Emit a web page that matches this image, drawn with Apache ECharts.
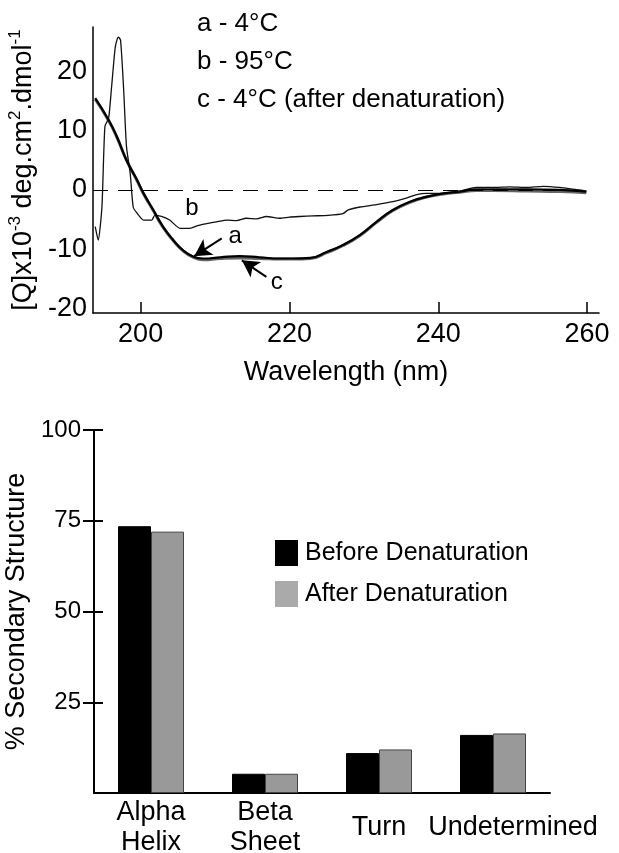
<!DOCTYPE html>
<html>
<head>
<meta charset="utf-8">
<script src="https://cdn.jsdelivr.net/npm/echarts@6/dist/echarts.min.js"></script>
<style>
  html, body { margin: 0; padding: 0; background: #fff; }
  #main { width: 619px; height: 853px; }
</style>
</head>
<body>
<div id="main"></div>
<script>
// CD spectra (wavelength nm, [Q] x10^-3)
var wlA = [193.9, 195.7, 196.8, 198.1, 199.5, 200.4, 201.7, 203.0, 204.4, 205.7, 207.1, 208.4, 210.7, 213.3, 216.0, 218.7, 220.5, 222.8, 225.0, 227.2, 229.5, 231.7, 233.9, 236.2, 238.4, 240.7, 242.9, 245.1, 247.4, 251.9, 256.4, 259.9];
var valA = [15.5, 11.8, 9.0, 5.0, 1.7, -0.6, -3.4, -6.2, -8.5, -10.2, -11.3, -11.6, -11.4, -11.2, -11.4, -11.6, -11.6, -11.5, -10.5, -9.3, -7.6, -5.4, -3.4, -2.0, -1.2, -0.6, -0.3, 0.1, 0.1, 0.1, 0.0, -0.3];

var wlC = [193.9, 195.7, 196.8, 198.1, 199.5, 200.4, 201.7, 203.0, 204.4, 205.7, 207.1, 208.4, 210.7, 213.3, 216.0, 218.7, 220.5, 222.8, 225.0, 227.2, 229.5, 231.7, 233.9, 236.2, 238.4, 240.7, 242.9, 245.1, 247.4, 251.9, 256.4, 259.9];
var valC = [15.3, 11.7, 8.9, 5.0, 1.6, -0.7, -3.5, -6.3, -8.6, -10.3, -11.4, -11.8, -11.6, -11.5, -11.6, -11.7, -11.7, -11.6, -10.6, -9.4, -7.7, -5.5, -3.5, -2.1, -1.2, -0.7, -0.4, -0.1, -0.1, -0.2, -0.3, -0.5];

var wlB = [193.9, 194.3, 194.8, 195.2, 195.7, 196.1, 196.6, 197.0, 197.3, 197.7, 198.1, 198.6, 199.0, 199.5, 200.4, 201.5, 201.9, 202.8, 203.9, 205.3, 206.6, 207.8, 208.9, 210.2, 211.6, 212.9, 214.2, 215.6, 216.9, 218.7, 220.0, 221.4, 223.2, 225.2, 227.2, 227.9, 229.5, 231.7, 233.9, 235.7, 237.1, 238.4, 240.2, 242.9, 245.1, 247.4, 249.6, 251.9, 254.1, 256.3, 259.9];
var valB = [-6.2, -8.5, -2.9, 10.7, 12.1, 17.4, 24.2, 25.8, 25.3, 17.4, 7.3, 2.8, -2.9, -3.9, -5.1, -5.1, -4.3, -4.5, -5.1, -6.5, -6.5, -6.0, -5.7, -5.4, -5.1, -5.2, -4.8, -4.9, -4.5, -4.8, -4.6, -4.5, -4.4, -4.3, -4.0, -3.4, -2.9, -2.5, -2.0, -1.4, -0.8, -0.6, -0.6, -0.2, 0.4, 0.4, 0.5, 0.4, 0.6, 0.4, -0.2];

// secondary structure (%)
var categories = ['Alpha\nHelix', 'Beta\nSheet', 'Turn', 'Undetermined'];
var before = [73.5, 5.3, 11, 16];
var after = [72, 5.3, 12, 16.4];

var xTicks = [200, 220, 240, 260];
var yTicks = [-20, -10, 0, 10, 20];
var pctTicks = [25, 50, 75, 100];

function pairs(xs, ys) {
    return xs.map(function (x, i) { return [x, ys[i]]; });
}

var font = 'Liberation Sans, Arial, sans-serif';
var chart = echarts.init(document.getElementById('main'));

var option = {
    animation: false,
    backgroundColor: '#fff',
    textStyle: { fontFamily: font, color: '#000' },
    title: {
        text: 'a - 4°C\nb - 95°C\nc - 4°C (after denaturation)',
        left: 192,
        top: 0,
        textStyle: { fontFamily: font, fontSize: 26, fontWeight: 'normal', color: '#000', lineHeight: 38 }
    },
    legend: {
        orient: 'vertical',
        left: 270,
        top: 535,
        itemWidth: 23,
        itemHeight: 26,
        itemGap: 15,
        icon: 'rect',
        itemStyle: { borderWidth: 0 },
        textStyle: { fontFamily: font, fontSize: 25, color: '#000', padding: [0, 0, 0, 2] },
        data: [
            { name: 'Before Denaturation', itemStyle: { color: '#000' } },
            { name: 'After Denaturation', itemStyle: { color: '#aaa' } }
        ]
    },
    grid: [
        { left: 93, right: 20, top: 27, height: 286, outerBoundsMode: 'none' },
        { left: 94, right: 69, top: 430, height: 363, outerBoundsMode: 'none' }
    ],
    xAxis: [{
        gridIndex: 0,
        type: 'value',
        min: 193.6,
        max: 261.6,
        splitLine: { show: false },
        axisLine: { show: true, onZero: false, lineStyle: { color: '#000', width: 1.5 } },
        axisTick: { show: true, inside: true, length: 11, customValues: xTicks, lineStyle: { color: '#000', width: 1.5 } },
        axisLabel: { customValues: xTicks, fontSize: 27, color: '#000', margin: 8 },
        name: 'Wavelength (nm)',
        nameLocation: 'middle',
        nameGap: 46,
        nameTextStyle: { fontSize: 27, color: '#000' }
    }, {
        gridIndex: 1,
        type: 'category',
        data: categories,
        axisLine: { show: true, lineStyle: { color: '#000', width: 2 } },
        axisTick: { show: false },
        axisLabel: {
            fontSize: 27,
            color: '#000',
            lineHeight: 30,
            verticalAlign: 'middle',
            margin: 35,
            interval: 0,
            formatter: function (v) {
                return v === 'Undetermined' ? '{u|' + v + '}' : v;
            },
            rich: { u: { fontSize: 27, color: '#000', padding: [0, 0, 0, 40] } }
        }
    }],
    yAxis: [{
        gridIndex: 0,
        type: 'value',
        min: -20.8,
        max: 27.5,
        splitLine: { show: false },
        axisLine: { show: true, onZero: false, lineStyle: { color: '#000', width: 1.5 } },
        axisTick: { show: false },
        axisLabel: { customValues: yTicks, fontSize: 27, color: '#000', margin: 6 },
        name: '{n|[Q]x10}{s|-3}{n| deg.cm}{s|2}{n|.dmol}{s|-1}',
        nameLocation: 'middle',
        nameGap: 39,
        nameTextStyle: {
            rich: {
                n: { fontSize: 27, color: '#000', lineHeight: 34, fontFamily: font },
                s: { fontSize: 17, color: '#000', lineHeight: 17, verticalAlign: 'top', fontFamily: font }
            }
        }
    }, {
        gridIndex: 1,
        type: 'value',
        min: 0,
        max: 100,
        interval: 25,
        splitLine: { show: false },
        axisLine: { show: true, lineStyle: { color: '#000', width: 2 } },
        axisTick: { show: true, length: 11, customValues: pctTicks, lineStyle: { color: '#000', width: 2 } },
        axisLabel: { customValues: pctTicks, fontSize: 24, color: '#000', margin: 13 },
        name: '% Secondary Structure',
        nameLocation: 'middle',
        nameGap: 53,
        nameTextStyle: { fontSize: 27, color: '#000' }
    }, {
        // inner half of the crossing ticks
        gridIndex: 1,
        type: 'value',
        position: 'left',
        min: 0,
        max: 100,
        interval: 25,
        splitLine: { show: false },
        axisLine: { show: false },
        axisTick: { show: true, inside: true, length: 9, customValues: pctTicks, lineStyle: { color: '#000', width: 2 } },
        axisLabel: { show: false }
    }],
    series: [{
        name: 'c',
        type: 'line',
        xAxisIndex: 0,
        yAxisIndex: 0,
        data: pairs(wlC, valC),
        smooth: true,
        showSymbol: false,
        lineStyle: { color: '#666', width: 3 },
        z: 2
    }, {
        name: 'b',
        type: 'line',
        xAxisIndex: 0,
        yAxisIndex: 0,
        data: pairs(wlB, valB),
        smooth: 0.2,
        showSymbol: false,
        lineStyle: { color: '#111', width: 1.3 },
        z: 3,
        markLine: {
            silent: true,
            symbol: ['none', 'none'],
            label: { show: false },
            lineStyle: { color: '#000', width: 1.2, type: [15, 10] },
            data: [[{ coord: [193.6, 0] }, { coord: [260, 0] }]]
        }
    }, {
        name: 'a',
        type: 'line',
        xAxisIndex: 0,
        yAxisIndex: 0,
        data: pairs(wlA, valA),
        smooth: true,
        showSymbol: false,
        lineStyle: { color: '#000', width: 2.2 },
        z: 4,
        markLine: {
            silent: true,
            symbol: ['none', 'arrow'],
            symbolSize: [14, 17],
            label: { show: false },
            lineStyle: { color: '#000', width: 2, type: 'solid' },
            data: [
                [{ coord: [210.9, -8.2] }, { coord: [207.2, -11.2] }],
                [{ coord: [216.9, -14.7] }, { coord: [213.6, -11.9] }]
            ]
        },
        markPoint: {
            silent: true,
            symbol: 'circle',
            symbolSize: 0,
            label: { show: true, position: 'inside', formatter: '{b}', fontSize: 24, color: '#000', fontFamily: font },
            data: [
                { name: 'a', coord: [212.7, -7.9] },
                { name: 'b', coord: [206.9, -3.2] },
                { name: 'c', coord: [218.3, -15.6] }
            ]
        }
    }, {
        name: 'Before Denaturation',
        type: 'bar',
        xAxisIndex: 1,
        yAxisIndex: 1,
        data: before,
        barWidth: 33,
        barGap: '0%',
        itemStyle: { color: '#000', borderColor: '#000', borderWidth: 1 }
    }, {
        name: 'After Denaturation',
        type: 'bar',
        xAxisIndex: 1,
        yAxisIndex: 1,
        data: after,
        barWidth: 33,
        barGap: '0%',
        itemStyle: { color: '#999', borderColor: '#444', borderWidth: 1 }
    }]
};

chart.setOption(option);

window.addEventListener('resize', function () {
    chart.resize();
});
</script>
</body>
</html>
